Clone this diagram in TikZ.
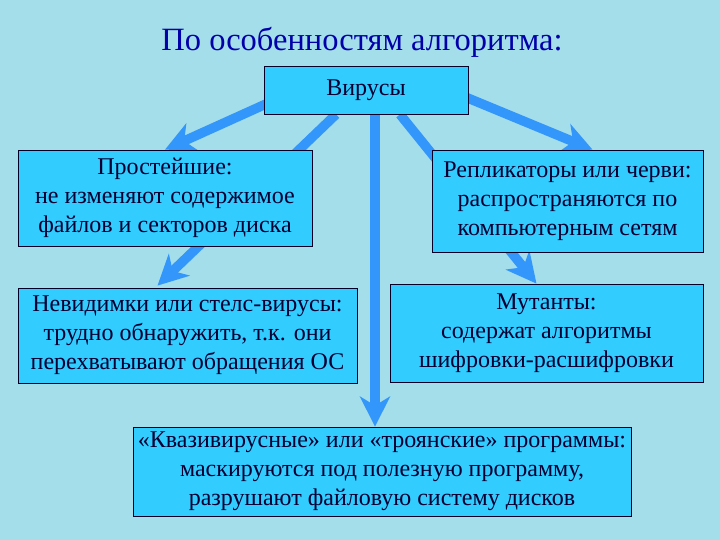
\documentclass[tikz,border=0pt]{standalone}
\usepackage{fontspec}
\setmainfont{Liberation Serif}
\usetikzlibrary{arrows.meta,calc,backgrounds}
\definecolor{bgcyan}{RGB}{164,222,234}
\definecolor{boxfill}{RGB}{51,204,255}
\definecolor{arrblue}{RGB}{51,150,250}
\definecolor{titleblue}{RGB}{0,0,170}
\definecolor{boxtext}{RGB}{0,0,50}
\tikzstyle{block} = [draw=black!85!blue, fill=boxfill, line width=0.8pt, align=center, inner sep=0pt, text=boxtext, font=\fontsize{24}{29}\selectfont]
\tikzstyle{line} = [draw=arrblue, line width=9.5pt, -{Stealth[length=30pt,width=30pt,inset=9pt]}]

\begin{document}
\begin{tikzpicture}[x=1pt, y=-1pt]
        \useasboundingbox (0,0) rectangle (720,540);
        \node[font=\fontsize{32.5}{36}\selectfont, text=titleblue] (title) at (362,42) {По особенностям алгоритма:};
        \node[block, minimum width=204pt, minimum height=48pt] (vir) at (366,90) {Вирусы};
        \node[block, minimum width=294pt, minimum height=96pt] (prost) at (165,198) {Простейшие:\\не изменяют содержимое\\файлов и секторов диска};
        \node[block, minimum width=271pt, minimum height=102pt] (repl) at (567.5,201) {Репликаторы или черви:\\распространяются по\\компьютерным сетям};
        \node[block, minimum width=339pt, minimum height=95pt] (nevid) at (187.5,335.5) {Невидимки или стелс-вирусы:\\трудно обнаружить, т.к. они\\перехватывают обращения ОС};
        \node[block, minimum width=313pt, minimum height=98pt] (mut) at (546.5,333) {Мутанты:\\содержат алгоритмы\\шифровки-расшифровки};
        \node[block, minimum width=498pt, minimum height=89pt] (kvazi) at (382,471.5) {«Квазивирусные» или «троянские» программы:\\маскируются под полезную программу,\\разрушают файловую систему дисков};
        \begin{scope}[on background layer]
            \fill[bgcyan] (0,0) rectangle (720,540);
            \coordinate (vdown) at ($(vir.south)+(9,0)$);
            \path[line] ($(vir.west)+(20,6)$) -- (prost.north);
            \path[line] ($(vir.south)+(-30,0)$) -- ($(nevid.north)+(-30,-2)$);
            \path[line] (vdown) -- (vdown |- kvazi.north);
            \path[line] ($(vir.south)+(34,0)$) -- ($(mut.north)+(-10,0)$);
            \path[line] ($(vir.east)+(-20,0)$) -- ($(repl.north)+(25,0)$);
        \end{scope}
    \end{tikzpicture}
\end{document}
